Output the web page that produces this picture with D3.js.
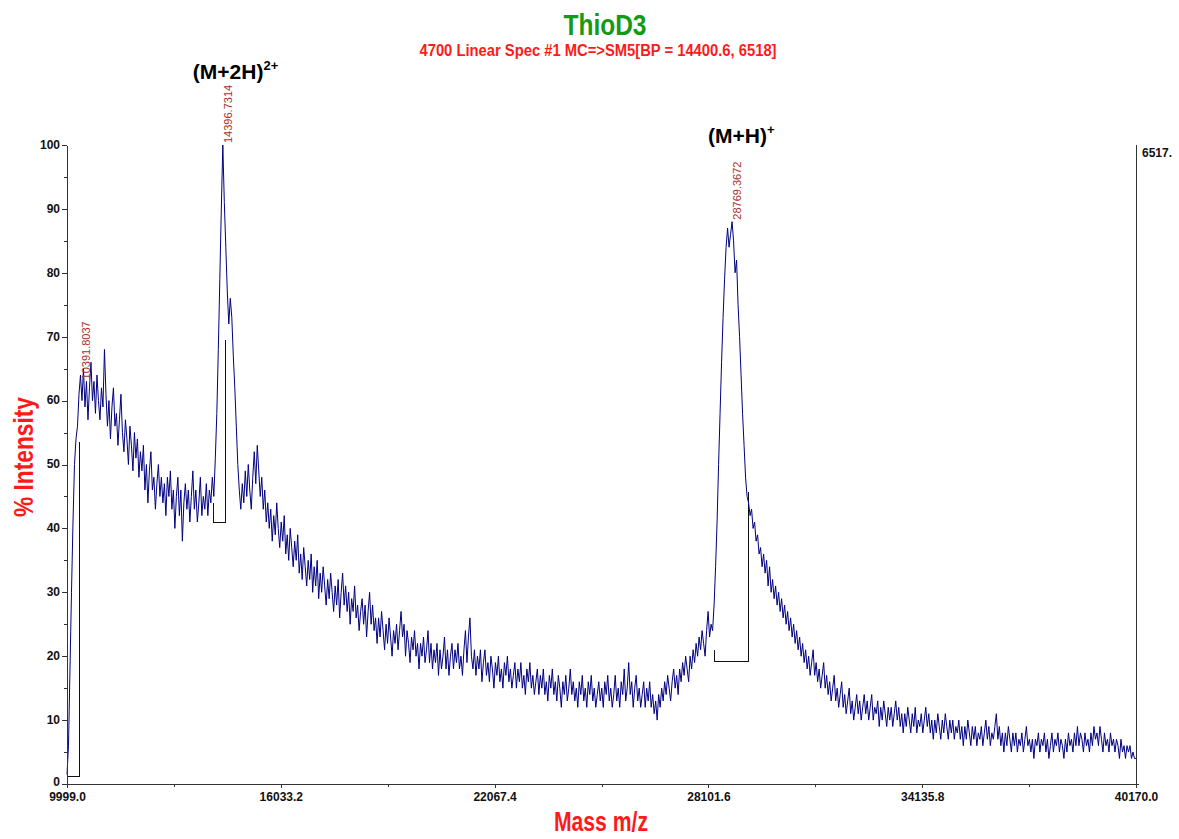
<!DOCTYPE html>
<html>
<head>
<meta charset="utf-8">
<script src="https://cdn.jsdelivr.net/npm/d3@7"></script>
<style>
  html, body { margin: 0; padding: 0; background: #fff; }
  svg { display: block; }
  text { font-family: "Liberation Sans", Arial, sans-serif; }
</style>
</head>
<body>
<svg id="chart" width="1179" height="839"></svg>
<script>
// Mass range of the acquisition (m/z)
const massStart = 9999.0;
const massEnd = 40170.0;

// Labelled peak centroids (m/z) and their apex heights (%)
const peakMasses = [10391.8037, 14396.7314, 28769.3672];
const peakHeights = [63, 100, 88];

// Trace, evenly spaced within each stretch:
// start of scan -> (M+2H)2+ apex
const traceLow = [
  1.5, 6, 18, 30, 41, 50, 54, 56, 61, 64, 60, 65, 59, 63, 57, 62, 66, 60, 63, 58,
  64, 60, 57, 62, 59, 68, 61, 56, 60, 54, 59, 62, 56, 58, 53, 57, 61, 55, 52, 57,
  54, 50, 56, 53, 49, 55, 51, 54, 48, 52, 49, 53, 46, 50, 44, 49, 52, 46, 48, 43,
  47, 50, 45, 48, 44, 47, 42, 48, 45, 49, 43, 46, 40, 45, 48, 42, 46, 38, 44, 47,
  43, 46, 41, 45, 49, 43, 46, 41, 44, 48, 42, 45, 43, 47, 42, 46, 44, 48, 45, 51,
  58, 68, 79, 90, 100
];
// (M+2H)2+ apex -> (M+H)+ apex
const traceMid = [
  100, 91, 84, 77, 72, 76, 73, 67, 62, 56, 50, 46, 43, 47, 44, 49, 45, 50, 46, 43,
  48, 52, 47, 53, 49, 45, 48, 43, 46, 41, 44, 40, 43, 38, 42, 39, 44, 40, 37, 41,
  38, 42, 36, 39, 35, 40, 37, 34, 38, 35, 39, 33, 36, 32, 37, 34, 31, 35, 32, 36,
  30, 34, 31, 35, 29, 33, 30, 34, 31, 28, 32, 29, 33, 30, 27, 31, 28, 32, 26, 30,
  33, 28, 31, 27, 30, 25, 29, 27, 31, 26, 28, 24, 27, 29, 25, 28, 23, 27, 30, 25,
  28, 24, 26, 22, 26, 23, 27, 24, 21, 25, 22, 26, 23, 20, 24, 22, 25, 21, 24, 27,
  23, 25, 20, 24, 22, 19, 23, 21, 24, 20, 22, 18, 22, 20, 23, 19, 21, 24, 19, 22,
  18, 21, 19, 22, 17, 21, 18, 20, 23, 18, 21, 17, 20, 22, 18, 21, 19, 22, 18, 20,
  17, 21, 24, 19, 23, 26, 20, 18, 21, 17, 20, 18, 21, 16, 19, 21, 17, 19, 16, 20,
  18, 15, 19, 17, 20, 16, 18, 15, 19, 17, 20, 16, 18, 15, 17, 19, 15, 18, 16, 19,
  15, 17, 14, 18, 16, 19, 15, 17, 14, 16, 18, 14, 17, 15, 18, 14, 16, 13, 17, 15,
  18, 14, 16, 13, 17, 15, 12, 16, 14, 17, 13, 15, 18, 14, 16, 13, 15, 12, 16, 14,
  17, 13, 15, 12, 16, 14, 17, 13, 15, 12, 14, 16, 13, 15, 12, 16, 14, 17, 13, 15,
  12, 14, 17, 13, 15, 12, 16, 14, 18, 13, 15, 19, 14, 16, 12, 15, 17, 13, 15, 12,
  14, 16, 12, 15, 13, 16, 12, 14, 11, 13, 10, 14, 12, 15, 13, 16, 14, 17, 15, 13,
  16, 18, 15, 17, 14, 18, 16, 19, 17, 20, 18, 16, 20, 18, 21, 19, 22, 20, 23, 21,
  24, 22, 20, 24, 27, 23, 25, 24, 28, 34, 41, 50, 58, 66, 73, 79, 84, 87, 84, 86,
  88
];
// (M+H)+ apex -> end of scan
const traceHigh = [
  88, 85, 80, 82, 75, 70, 64, 58, 53, 48, 45, 44, 42, 43, 40, 41, 38, 39, 36, 37,
  34, 36, 33, 35, 31, 34, 30, 32, 29, 31, 28, 30, 27, 29, 26, 28, 25, 27, 24, 26,
  23, 25, 22, 24, 21, 23, 20, 22, 19, 21, 18, 20, 17, 19, 21, 17, 19, 16, 18, 15,
  17, 19, 15, 17, 14, 16, 13, 15, 17, 13, 15, 12, 14, 16, 12, 14, 11, 13, 15, 11,
  13, 10, 12, 14, 11, 13, 10, 12, 14, 11, 13, 10, 12, 14, 10, 12, 11, 13, 9, 12,
  10, 13, 11, 9, 12, 10, 12, 9, 11, 13, 10, 12, 9, 11, 8, 11, 9, 12, 10, 8,
  11, 9, 12, 8, 10, 9, 11, 8, 10, 12, 9, 11, 8, 10, 7, 10, 8, 11, 9, 7,
  10, 8, 11, 9, 7, 10, 8, 10, 7, 9, 8, 10, 7, 9, 6, 9, 7, 10, 8, 6,
  9, 7, 9, 6, 8, 7, 9, 6, 8, 10, 7, 9, 6, 8, 7, 9, 11, 7, 9, 6,
  8, 5, 8, 6, 9, 7, 5, 8, 6, 8, 5, 7, 6, 8, 5, 7, 9, 6, 7, 5,
  7, 4, 7, 6, 8, 5, 7, 6, 8, 5, 7, 4, 6, 8, 5, 7, 6, 8, 5, 7,
  6, 4, 7, 5, 8, 6, 7, 5, 8, 6, 9, 6, 8, 7, 5, 8, 6, 7, 5, 8,
  6, 9, 7, 8, 6, 9, 7, 5, 8, 6, 7, 5, 8, 6, 7, 5, 7, 6, 4, 7,
  5, 6, 4, 6, 5, 6, 4, 5, 4, 4
];

// Axis ticks
const xTicks = [9999.0, 16033.2, 22067.4, 28101.6, 34135.8, 40170.0];
const xMinorTicks = [13016.1, 19050.3, 25084.5, 31118.7, 37152.9];
const yTicks = [0, 10, 20, 30, 40, 50, 60, 70, 80, 90, 100];
const yMinorTicks = [5, 15, 25, 35, 45, 55, 65, 75, 85, 95];

// Peak integration regions: bounds (m/z), baseline (%) and edge heights (%)
const regionStart = [9999.0, 14147, 28286];
const regionEnd = [10340, 14486, 29245];
const regionBase = [1.2, 41, 19.2];
const regionStartTop = [4, 44, 21];
const regionEndTop = [53.5, 69.5, 45.7];

// Charge-state assignments
const ionNames = ["(M+2H)", "(M+H)"];
const ionCharges = ["2+", "+"];
const ionPeaks = [14396.7314, 28769.3672];

const titleText = "ThioD3";
const subtitleText = "4700 Linear Spec #1 MC=>SM5[BP = 14400.6, 6518]";
const rightAxisLabel = "6517.";

const svg = d3.select("#chart");

const x = d3.scaleLinear().domain([massStart, massEnd]).range([67, 1136]);
const y = d3.scaleLinear().domain([0, 100]).range([784, 145]);

// Spread each stretch evenly between its bounding masses and join them
function stretch(values, m0, m1, skipFirst) {
  const n = values.length - 1;
  return values.map((v, i) => ({ mass: m0 + (m1 - m0) * i / n, value: v }))
    .slice(skipFirst ? 1 : 0);
}
const spectrum = [
  ...stretch(traceLow, massStart, peakMasses[1], false),
  ...stretch(traceMid, peakMasses[1], peakMasses[2], true),
  ...stretch(traceHigh, peakMasses[2], massEnd, true)
];

// Peak integration outlines (drawn beneath the trace)
const regions = regionStart.map((s, i) => ({
  s, e: regionEnd[i], b: regionBase[i], st: regionStartTop[i], et: regionEndTop[i]
}));
svg.append("g").selectAll("path").data(regions).join("path")
  .attr("d", r => {
    const p = d3.path();
    p.moveTo(x(r.s), y(r.st));
    p.lineTo(x(r.s), y(r.b));
    p.lineTo(x(r.e), y(r.b));
    p.lineTo(x(r.e), y(r.et));
    return p.toString();
  })
  .attr("fill", "none")
  .attr("stroke", "#111")
  .attr("stroke-width", 1)
  .attr("shape-rendering", "crispEdges");

// Spectrum trace
svg.append("path")
  .datum(spectrum)
  .attr("fill", "none")
  .attr("stroke", "#000080")
  .attr("stroke-width", 1)
  .attr("d", d3.line().x(d => x(d.mass)).y(d => y(d.value)));

// Axes
const axisColor = "#333";
function styleAxis(g) {
  g.selectAll("path, line").attr("stroke", axisColor).attr("shape-rendering", "crispEdges");
  g.selectAll("text")
    .attr("fill", "#111")
    .style("font-size", "12px")
    .style("font-weight", "bold")
    .style("font-family", '"Liberation Sans", Arial, sans-serif');
}

const gy = svg.append("g").attr("transform", "translate(67,0)")
  .call(d3.axisLeft(y).tickValues(yTicks).tickSize(5).tickSizeOuter(0).tickPadding(2).tickFormat(d3.format("d")));
styleAxis(gy);
// the zero label sits a touch higher so it clears the first mass label
gy.selectAll(".tick text").attr("dy", d => d === 0 ? "0.1em" : "0.28em");
const gyMinor = svg.append("g").attr("transform", "translate(67,0)")
  .call(d3.axisLeft(y).tickValues(yMinorTicks).tickSize(3).tickFormat(""));
gyMinor.select(".domain").remove();
styleAxis(gyMinor);

const gx = svg.append("g").attr("transform", "translate(0,784)")
  .call(d3.axisBottom(x).tickValues(xTicks).tickSize(4).tickSizeOuter(0).tickPadding(4).tickFormat(d3.format(".1f")));
gx.select(".domain").attr("d", `M${x(massStart)},0.5H1139`);
styleAxis(gx);
const gxMinor = svg.append("g").attr("transform", "translate(0,784)")
  .call(d3.axisBottom(x).tickValues(xMinorTicks).tickSize(3).tickFormat(""));
gxMinor.select(".domain").remove();
styleAxis(gxMinor);

// Right-hand absolute intensity scale
svg.append("line")
  .attr("x1", 1136).attr("x2", 1136).attr("y1", y(100)).attr("y2", y(0))
  .attr("stroke", axisColor).attr("shape-rendering", "crispEdges");
svg.append("text")
  .attr("x", 1142).attr("y", 157)
  .attr("fill", "#111").style("font-size", "12px").style("font-weight", "bold")
  .text(rightAxisLabel);

// Peak centroid labels, vertical, sitting just above each apex
svg.append("g").selectAll("text").data(peakMasses).join("text")
  .attr("transform", (m, i) => `translate(${x(m) + 9},${y(peakHeights[i]) - 2}) rotate(-90)`)
  .attr("fill", "#a8312b")
  .style("font-size", "11px")
  .text(m => d3.format(".4f")(m));

// Charge-state annotations
const ionOffsets = [[-30, 79], [-24, 143]];
ionNames.forEach((name, i) => {
  const px = x(ionPeaks[i]) + ionOffsets[i][0];
  const py = ionOffsets[i][1];
  const t = svg.append("text")
    .attr("x", px).attr("y", py)
    .attr("fill", "#000")
    .style("font-size", "21px").style("font-weight", "bold");
  t.append("tspan").text(name);
  t.append("tspan").attr("dy", -9).style("font-size", "13px").text(ionCharges[i]);
});

// Titles
svg.append("text")
  .attr("x", 605).attr("y", 35)
  .attr("text-anchor", "middle")
  .attr("fill", "#169916")
  .attr("textLength", 83).attr("lengthAdjust", "spacingAndGlyphs")
  .style("font-size", "30px").style("font-weight", "bold")
  .text(titleText);
svg.append("text")
  .attr("x", 598).attr("y", 56)
  .attr("text-anchor", "middle")
  .attr("fill", "#ff1a1a")
  .attr("textLength", 357).attr("lengthAdjust", "spacingAndGlyphs")
  .style("font-size", "16px").style("font-weight", "bold")
  .text(subtitleText);

// Axis titles
svg.append("text")
  .attr("transform", "translate(33,457) rotate(-90)")
  .attr("text-anchor", "middle")
  .attr("fill", "#ff1a1a")
  .attr("textLength", 120).attr("lengthAdjust", "spacingAndGlyphs")
  .style("font-size", "28px").style("font-weight", "bold")
  .text("% Intensity");
svg.append("text")
  .attr("x", 601).attr("y", 831)
  .attr("text-anchor", "middle")
  .attr("fill", "#ff1a1a")
  .attr("textLength", 94).attr("lengthAdjust", "spacingAndGlyphs")
  .style("font-size", "27px").style("font-weight", "bold")
  .text("Mass m/z");
</script>
</body>
</html>
